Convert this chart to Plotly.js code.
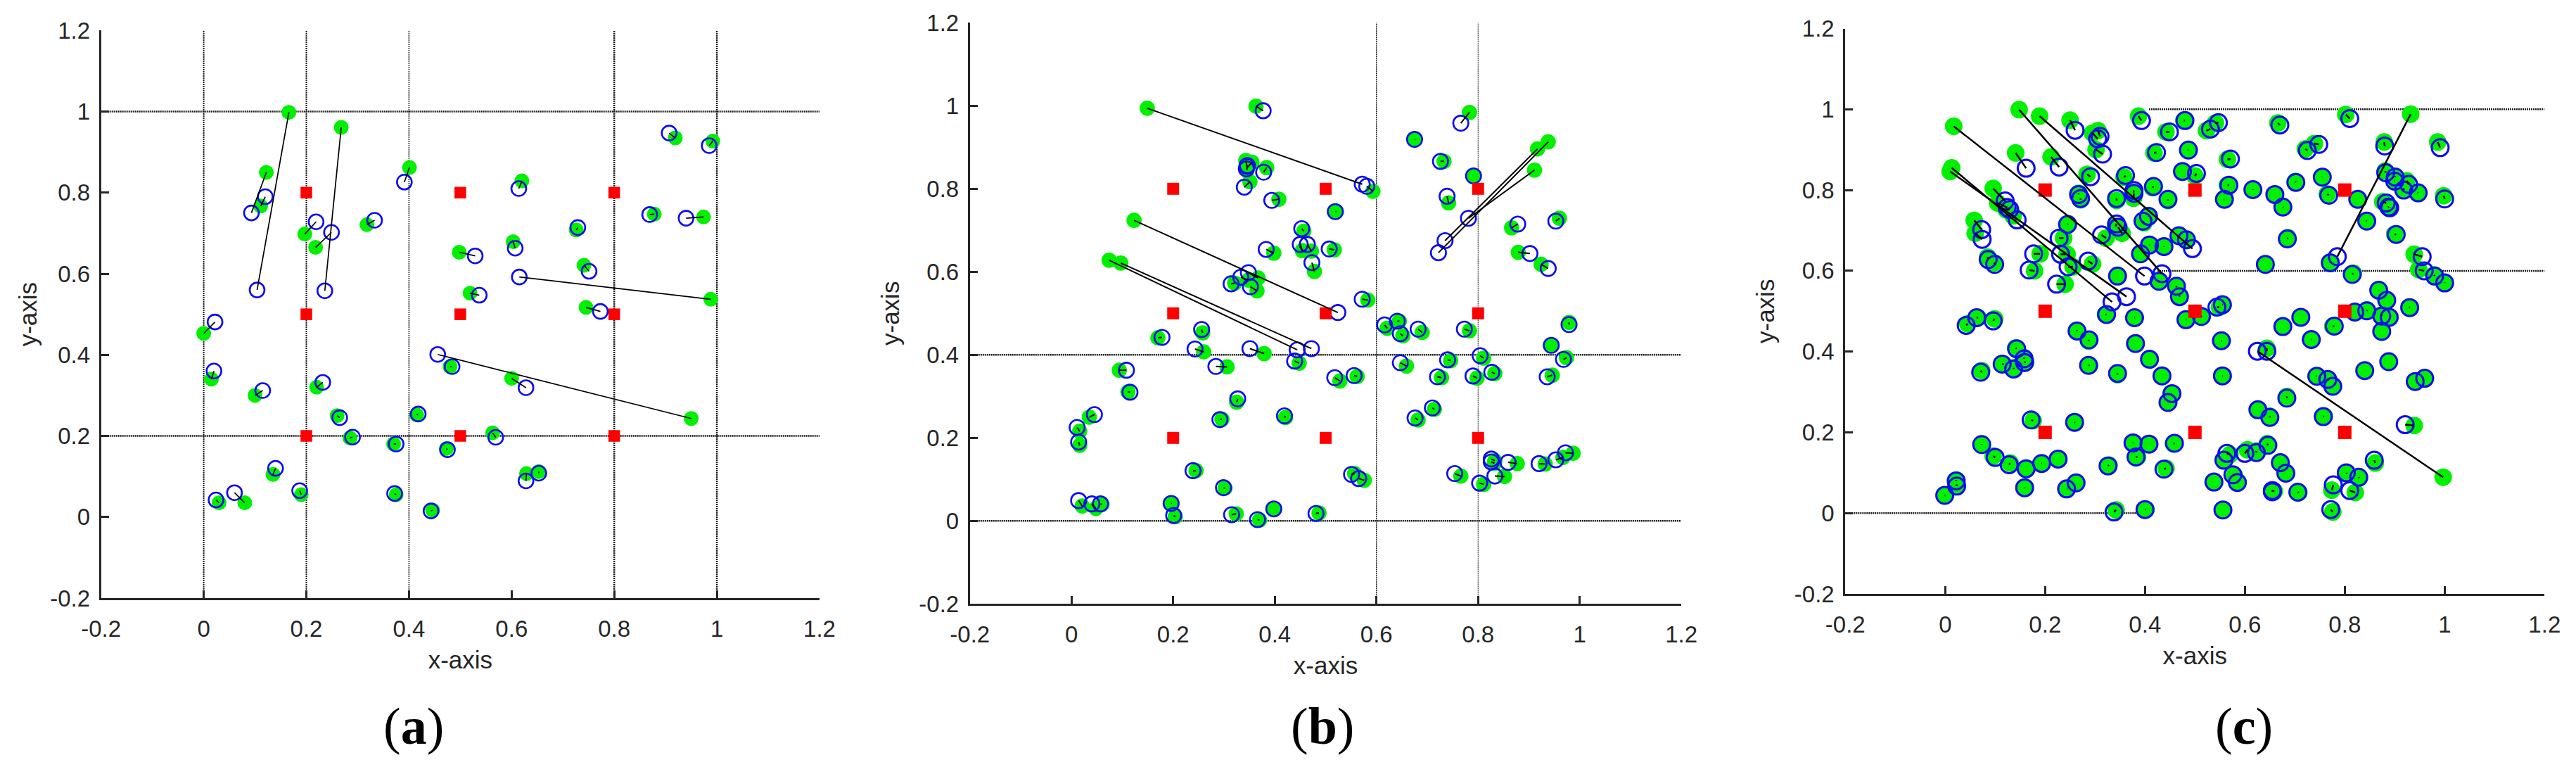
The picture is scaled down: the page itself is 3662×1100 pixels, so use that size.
<!DOCTYPE html>
<html>
<head>
<meta charset="utf-8">
<script src="https://cdn.plot.ly/plotly-3.0.1.min.js"></script>
<style>html,body{margin:0;padding:0;background:#fff}</style>
</head>
<body>
<div id="chart" style="width:3662px;height:1100px"></div>
<script>
var tickVals = [-0.2, 0, 0.2, 0.4, 0.6, 0.8, 1, 1.2];
var tickText = ["-0.2", "0", "0.2", "0.4", "0.6", "0.8", "1", "1.2"];

// anchor nodes, the same nine in every panel
var redX = [0.2, 0.2, 0.2, 0.5, 0.5, 0.5, 0.8, 0.8, 0.8];
var redY = [0.8, 0.5, 0.2, 0.8, 0.5, 0.2, 0.8, 0.5, 0.2];

// panel a: green = true position, blue = estimate
var aGreenX = [.166,.122,.111,.268,.197,.218,.318,.401,0,.498,.620,.603,.726,.741,.919,.992,.878,.974,.988,.519,
  .745,.950,.480,.600,.563,.629,.653,.473,.446,.415,.375,.37,.285,.26,.22,.1,.015,.03,.08,.135,.19];
var aGreenY = [.998,.850,.767,.961,.698,.665,.721,.862,.453,.653,.829,.679,.708,.621,.935,.927,.747,.740,.537,.552,
  .517,.243,.371,.342,.2075,.107,.112,.169,.017,.252,.055,.18,.195,.25,.32,.3,.34,.035,.035,.105,.055];
var aBlueX = [.104,.093,.120,.236,.219,.249,.333,.391,.022,.529,.614,.607,.729,.751,.907,.985,.869,.940,.615,.537,
  .773,.456,.484,.628,.569,.628,.653,.475,.443,.418,.372,.375,.29,.265,.232,.115,.02,.024,.06,.14,.187];
var aBlueY = [.560,.750,.790,.558,.728,.702,.732,.826,.481,.644,.810,.663,.714,.606,.947,.916,.746,.737,.592,.547,
  .507,.401,.371,.319,.1965,.089,.108,.166,.015,.254,.058,.18,.197,.245,.332,.312,.36,.042,.06,.12,.065];

// panel b
var bGreenX = [.149,.593,.363,.343,.355,.345,.384,.351,.408,.123,.457,.454,.472,.398,.478,.517,.521,.074,.097,.367,
  .348,.321,.365,.170,.258,.260,.379,.448,.306,.094,.111,.325,.035,.016,.016,.296,.421,.245,.302,.197,
  .204,.324,.370,.398,.487,.021,.048,.060,.528,.562,.979,.944,.974,.946,.621,.645,.652,.690,.783,.659,
  .746,.811,.728,.798,.833,.682,.714,.557,.576,.766,.811,.852,.877,.833,.832,.932,.967,.987,.783,.676,
  .733,.791,.742,.938,.917,.911,.866,.960,.879,.924,.583];
var bGreenY = [.994,.794,.999,.868,.864,.845,.851,.817,.775,.724,.698,.651,.650,.645,.601,.653,.745,.628,.621,.585,
  .580,.573,.554,.441,.453,.407,.403,.380,.371,.363,.311,.286,.250,.216,.182,.245,.249,.121,.079,.043,
  .010,.017,.002,.029,.019,.036,.030,.040,.337,.348,.478,.423,.393,.351,.464,.481,.446,.454,.458,.373,
  .386,.392,.345,.344,.355,.243,.269,.114,.098,.108,.088,.107,.138,.145,.139,.137,.153,.163,.984,.919,
  .866,.831,.766,.913,.896,.845,.706,.729,.647,.618,.532];
var bBlueX = [.572,.581,.377,.345,.344,.346,.378,.340,.394,.524,.453,.450,.464,.383,.473,.507,.519,.444,.472,.348,
  .333,.314,.352,.178,.256,.243,.351,.439,.284,.108,.115,.327,.045,.011,.014,.292,.419,.239,.299,.196,
  .201,.315,.366,.398,.481,.014,.040,.057,.518,.556,.979,.944,.968,.936,.616,.641,.647,.682,.773,.647,
  .740,.804,.720,.790,.827,.676,.710,.551,.565,.754,.803,.833,.859,.826,.826,.920,.953,.972,.766,.675,
  .726,.791,.739,.722,.735,.781,.878,.953,.902,.938,.572];
var bBlueY = [.811,.806,.988,.854,.848,.856,.840,.804,.772,.502,.704,.666,.666,.654,.622,.655,.745,.412,.415,.598,
  .587,.571,.564,.442,.461,.414,.415,.385,.372,.363,.310,.294,.256,.225,.190,.244,.253,.121,.080,.042,
  .013,.015,.003,.029,.018,.049,.041,.041,.345,.350,.473,.423,.389,.347,.472,.481,.451,.462,.462,.381,
  .388,.398,.347,.349,.358,.248,.272,.112,.102,.114,.091,.108,.141,.149,.142,.138,.147,.164,.958,.919,
  .866,.831,.782,.646,.675,.729,.715,.722,.644,.608,.534];

// panel c
var cGreenX = [.017,.148,.189,.013,.010,.250,.387,.295,.306,.302,.141,.212,.284,.478,.442,.523,.541,.418,.486,.565,
  .475,.5,.358,.415,.446,.377,.377,.343,.267,.271,.407,.398,.468,.483,.410,.438,.391,.565,.558,.341,
  .354,.322,.246,.237,.190,.244,.256,.295,.345,.179,.240,.058,.060,.085,.098,.096,.105,.122,.136,.429,
  .463,.469,.802,.932,.666,.721,.739,.879,.986,.881,.901,.901,.924,.918,.946,.998,.876,.890,.886,.826,
  .843,.765,.755,.701,.616,.660,.677,.686,.641,.900,.939,.948,.979,1.0,.771,.817,.868,.884,
  .045,.066,.099,.321,.380,.483,.514,.549,.556,.263,.287,.381,.409,.434,.453,.446,.289,.345,.141,.158,
  .161,.137,.117,.073,.176,.260,.554,.556,.073,.096,.130,.162,.194,.226,.159,.244,.262,.022,.023,0,
  .328,.376,.408,.457,.385,.442,.342,.402,.556,
  .676,.712,.776,.732,.644,.997,.820,.845,.873,.889,.874,.929,.888,.840,.941,.960,.743,.765,.776,.684,
  .626,.650,.759,.939,.645,.623,.605,.570,.558,.671,.682,.861,.829,.804,.774,.821,.776,.579,.586,.538,
  .659,.655,.708];
var cGreenY = [.958,.999,.983,.855,.846,.973,.983,.941,.947,.900,.892,.882,.839,.972,.944,.947,.966,.892,.899,.876,
  .846,.835,.832,.806,.774,.794,.780,.774,.792,.776,.736,.719,.687,.675,.664,.661,.642,.812,.777,.710,
  .693,.681,.716,.681,.642,.641,.610,.617,.587,.600,.567,.725,.693,.634,.620,.804,.768,.751,.736,.574,
  .559,.539,.987,.988,.966,.902,.915,.919,.919,.847,.834,.822,.823,.804,.794,.786,.771,.757,.758,.777,
  .724,.790,.833,.821,.802,.789,.757,.682,.616,.691,.641,.603,.590,.571,.619,.594,.553,.527,
  .469,.484,.481,.492,.484,.479,.487,.510,.516,.453,.426,.420,.381,.340,.296,.274,.366,.343,.409,.385,
  .375,.360,.369,.353,.229,.224,.427,.340,.171,.141,.124,.110,.123,.134,.064,.060,.075,.082,.071,.044,
  .119,.173,.171,.172,.139,.111,.008,.009,.008,
  .462,.485,.463,.430,.408,.089,.498,.503,.490,.485,.450,.510,.375,.353,.326,.334,.340,.331,.314,.289,
  .256,.240,.240,.217,.172,.154,.157,.145,.131,.125,.099,.124,.087,.098,.057,.051,.003,.093,.077,.077,
  .054,.057,.051];
var cBlueX = [.399,.434,.495,.334,.363,.260,.393,.305,.310,.315,.162,.228,.291,.480,.449,.531,.547,.423,.487,.571,
  .475,.503,.361,.417,.446,.378,.378,.343,.267,.271,.407,.396,.468,.483,.409,.438,.391,.568,.559,.343,
  .346,.313,.245,.228,.177,.231,.246,.286,.345,.168,.223,.073,.074,.086,.099,.120,.124,.129,.144,.428,
  .463,.469,.810,.785,.670,.725,.748,.880,.991,.882,.901,.900,.928,.918,.947,1.0,.883,.890,.888,.826,
  .844,.768,.755,.702,.616,.660,.676,.685,.641,.903,.955,.959,.980,1.0,.771,.815,.868,.884,
  .042,.063,.096,.323,.379,.482,.513,.544,.555,.264,.288,.381,.409,.434,.454,.446,.287,.345,.143,.158,
  .159,.137,.114,.071,.172,.259,.553,.555,.073,.100,.128,.162,.193,.226,.159,.243,.262,.022,.023,-.001,
  .326,.376,.408,.459,.382,.438,.338,.400,.556,
  .676,.712,.779,.733,.644,.625,.820,.844,.874,.889,.874,.930,.888,.840,.941,.960,.744,.766,.776,.684,
  .626,.650,.757,.921,.646,.623,.600,.564,.558,.671,.682,.859,.828,.803,.777,.810,.772,.576,.585,.538,
  .655,.655,.706];
var cBlueY = [.587,.593,.655,.523,.536,.948,.972,.927,.933,.889,.854,.857,.833,.972,.944,.951,.967,.893,.899,.877,
  .846,.841,.836,.809,.777,.799,.792,.779,.789,.779,.735,.723,.687,.677,.664,.660,.642,.812,.777,.716,
  .708,.689,.715,.681,.642,.641,.610,.624,.587,.602,.567,.702,.678,.628,.616,.773,.757,.752,.726,.574,
  .562,.536,.977,.635,.961,.898,.913,.909,.905,.843,.832,.822,.814,.800,.793,.778,.768,.756,.758,.777,
  .723,.787,.832,.819,.801,.789,.758,.679,.616,.690,.635,.600,.587,.570,.620,.591,.552,.527,
  .465,.484,.476,.492,.484,.479,.487,.510,.516,.451,.429,.420,.381,.340,.296,.274,.366,.346,.407,.382,
  .373,.357,.369,.349,.231,.225,.427,.340,.170,.138,.120,.110,.123,.134,.063,.060,.075,.080,.067,.044,
  .117,.174,.171,.173,.139,.109,.003,.009,.008,
  .462,.485,.463,.430,.401,.401,.498,.501,.488,.485,.450,.509,.375,.353,.326,.334,.339,.331,.314,.285,
  .256,.237,.239,.219,.168,.150,.148,.148,.131,.125,.099,.131,.089,.100,.070,.056,.009,.095,.076,.077,
  .056,.053,.052];

// dotted reference lines, start and end of each one
var aVertX = [0, 0.2, 0.4, 0.8, 1];
var aVertW = [2, 2, 1.5, 2.5, 2.5];
var aHorizY = [1, 0.2];
var bVertX = [0.6, 0.8];
var bVertW = [1.5, 1];
var bHorizY = [0.4, 0];
var cHorizY = [1, 0.6, 0];
var cHorizFrom = [0.408, 0.425, -0.2];
var cHorizTo = [1.2, 1.2, 0.395];

var data = [];

function refLine(ax, xs, ys, w) {
  data.push({
    x: xs, y: ys, xaxis: "x" + ax, yaxis: "y" + ax, type: "scatter", mode: "lines",
    line: {color: "#1c1c1c", width: w, dash: "2px,1px"}, hoverinfo: "skip"
  });
}

// links from every green point to its blue point
function links(gx, gy, bx, by) {
  var lx = [], ly = [];
  for (var i = 0; i < gx.length; i++) {
    lx.push(gx[i], bx[i], null);
    ly.push(gy[i], by[i], null);
  }
  return {x: lx, y: ly};
}

function addPanel(ax, gx, gy, bx, by, gSize, bSize, bWidth, rSize, lWidth) {
  data.push({
    x: gx, y: gy, xaxis: "x" + ax, yaxis: "y" + ax, type: "scatter", mode: "markers",
    marker: {symbol: "circle", size: gSize, color: "#00f000", line: {width: 0}}
  });
  data.push({
    x: bx, y: by, xaxis: "x" + ax, yaxis: "y" + ax, type: "scatter", mode: "markers",
    marker: {symbol: "circle-open", size: bSize, color: "#0c0cf0", line: {width: bWidth, color: "#0c0cf0"}}
  });
  data.push({
    x: redX, y: redY, xaxis: "x" + ax, yaxis: "y" + ax, type: "scatter", mode: "markers",
    marker: {symbol: "square", size: rSize, color: "#ff0000", line: {width: 0}}
  });
  var l = links(gx, gy, bx, by);
  data.push({
    x: l.x, y: l.y, xaxis: "x" + ax, yaxis: "y" + ax, type: "scatter", mode: "lines",
    line: {color: "#000000", width: lWidth}
  });
}

var i;
for (i = 0; i < aVertX.length; i++) refLine("", [aVertX[i], aVertX[i]], [-0.2, 1.2], aVertW[i]);
for (i = 0; i < aHorizY.length; i++) refLine("", [-0.2, 1.2], [aHorizY[i], aHorizY[i]], 2.5);
for (i = 0; i < bVertX.length; i++) refLine("2", [bVertX[i], bVertX[i]], [-0.2, 1.2], bVertW[i]);
for (i = 0; i < bHorizY.length; i++) refLine("2", [-0.2, 1.2], [bHorizY[i], bHorizY[i]], 2.5);
for (i = 0; i < cHorizY.length; i++) refLine("3", [cHorizFrom[i], cHorizTo[i]], [cHorizY[i], cHorizY[i]], 2.5);

addPanel("", aGreenX, aGreenY, aBlueX, aBlueY, 21, 21, 2.6, 16.5, 1.7);
addPanel("2", bGreenX, bGreenY, bBlueX, bBlueY, 21.7, 21.5, 2.6, 17, 2);
addPanel("3", cGreenX, cGreenY, cBlueX, cBlueY, 25, 24, 3, 19, 2.5);

function xAxis(left, right, anchor) {
  return {
    domain: [left / 3662, right / 3662], anchor: anchor, range: [-0.2, 1.2],
    tickmode: "array", tickvals: tickVals, ticktext: tickText,
    ticks: "inside", ticklen: 11, tickwidth: 3, tickcolor: "#262626",
    showline: true, linecolor: "#262626", linewidth: 3,
    showgrid: false, zeroline: false, ticklabelstandoff: 12,
    tickfont: {family: "Liberation Sans", size: 33, color: "#262626"},
    title: {text: "x-axis", standoff: 15, font: {family: "Liberation Sans", size: 35, color: "#262626"}}
  };
}

function yAxis(top, bottom, anchor, titleGap) {
  return {
    domain: [1 - bottom / 1100, 1 - top / 1100], anchor: anchor, range: [-0.2, 1.2],
    tickmode: "array", tickvals: tickVals, ticktext: tickText,
    ticks: "inside", ticklen: 11, tickwidth: 3, tickcolor: "#262626",
    showline: true, linecolor: "#262626", linewidth: 3,
    showgrid: false, zeroline: false, ticklabelstandoff: 6,
    tickfont: {family: "Liberation Sans", size: 33, color: "#262626"},
    title: {text: "y-axis", standoff: titleGap, font: {family: "Liberation Sans", size: 35, color: "#262626"}}
  };
}

function panelLabel(letter, px) {
  return {
    text: "(<b>" + letter + "</b>)", xref: "paper", yref: "paper",
    x: px / 3662, y: 1 - 1032 / 1100, xanchor: "center", yanchor: "middle", showarrow: false,
    font: {family: "Liberation Serif", size: 74, color: "#000000"}
  };
}

var layout = {
  width: 3662, height: 1100, showlegend: false,
  margin: {l: 0, r: 0, t: 0, b: 0},
  paper_bgcolor: "#ffffff", plot_bgcolor: "#ffffff",
  xaxis: xAxis(143.7, 1165, "y"), yaxis: yAxis(43.3, 850, "x", 8),
  xaxis2: xAxis(1378.8, 2390.2, "y2"), yaxis2: yAxis(32.3, 858.3, "x2", 18),
  xaxis3: xAxis(2623.3, 3617.3, "y3"), yaxis3: yAxis(40.5, 844.1, "x3", 18),
  annotations: [panelLabel("a", 588), panelLabel("b", 1880), panelLabel("c", 3190)]
};

Plotly.newPlot("chart", data, layout, {displayModeBar: false});
</script>
</body>
</html>
